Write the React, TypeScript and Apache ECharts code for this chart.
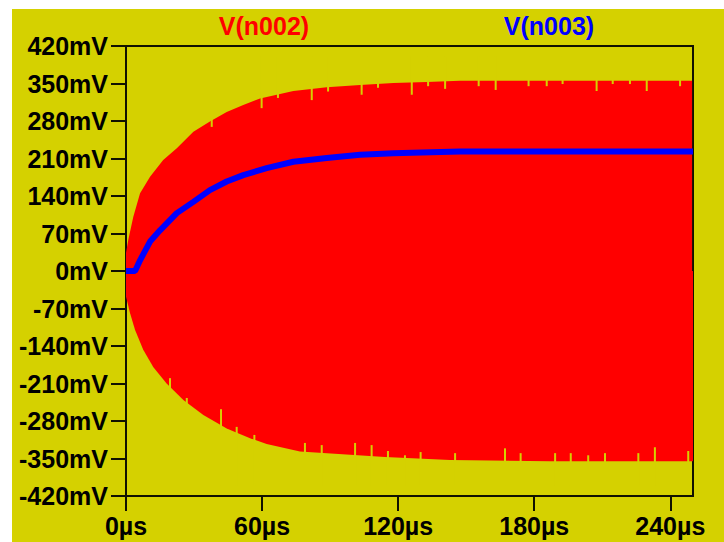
import React, { useEffect, useRef } from "react";
import * as echarts from "echarts";

// ---- data ----
const xTicks = [0, 60, 120, 180, 240];
const yTicks = [-420, -350, -280, -210, -140, -70, 0, 70, 140, 210, 280, 350, 420];

// V(n002): envelope of the fast oscillation (µs, mV)
const upperT = [0, 1.0, 3.2, 6.2, 10.6, 16.4, 22.4, 29.7, 37.0, 44.4, 51.7, 59.1, 73.8, 88.5, 103.2, 117.9, 132.6, 147.3, 200, 249.6];
const upperV = [34, 58, 101, 145, 176, 207, 229, 260, 279, 297, 310, 322, 336, 343, 347, 351, 353, 355, 355, 355];
const lowerT = [0, 1.8, 4.0, 7.6, 12.0, 17.9, 25.3, 34.1, 44.4, 54.7, 62.0, 76.7, 114.2, 142.9, 187, 250];
const lowerV = [-48, -79, -110, -147, -179, -210, -241, -269, -294, -312, -323, -337, -347, -353, -355, -355];

// small notches in the envelope edges (µs, mV reached by the notch)
const upperNotchT = [37.8, 59.8, 67.0, 81.9, 89.1, 103.9, 111.1, 126.0, 133.2, 140.7, 155.5, 163.0, 177.5, 185.5, 192.5, 207.5, 214.6, 222.2, 229.6, 244.3];
const upperNotchV = [269, 304, 323, 319, 335, 329, 342, 329, 345, 340, 345, 338, 345, 345, 349, 336, 349, 349, 336, 345];
const lowerNotchT = [19.4, 26.8, 41.9, 48.8, 56.6, 78.9, 86.3, 101.0, 108.3, 115.5, 123.0, 129.9, 145.1, 167.1, 174.0, 189.2, 196.1, 203.8, 211.2, 225.9, 233.2, 247.9];
const lowerNotchV = [-200, -237, -258, -291, -306, -321, -325, -321, -325, -336, -344, -338, -340, -331, -340, -340, -340, -344, -340, -340, -329, -336];

// V(n003)
const blueT = [0, 4, 6.2, 10.6, 15, 22.4, 29.7, 37, 44.4, 51.7, 62, 73.8, 88.5, 103.2, 117.9, 147.3, 200, 250];
const blueV = [0, 0, 20, 55, 76, 108, 129, 151, 167, 179, 192, 204, 211, 217, 220, 223, 223, 223];

const BG = "#d5d100";
const FONT = '"Liberation Sans", Arial, sans-serif';
const AXIS = "#111100";

export default function App() {
  const ref = useRef<HTMLDivElement>(null);

  useEffect(() => {
    const chart = echarts.init(ref.current!, null, { renderer: "svg" });
    const pairs = (t: number[], v: number[]) => t.map((x, i) => [x, v[i]]);

    const notchSeries = (t: number[], v: number[], edge: number) => ({
      type: "custom",
      data: pairs(t, v),
      z: 3,
      renderItem: (params: any, api: any) => {
        const p1 = api.coord([api.value(0), api.value(1)]);
        const p2 = api.coord([api.value(0), edge]);
        const y0 = Math.min(p1[1], p2[1]);
        return {
          type: "rect",
          shape: { x: p1[0] - 1, y: y0, width: 2, height: Math.abs(p2[1] - p1[1]) },
          style: { fill: BG },
        };
      },
    });

    chart.setOption({
      animation: false,
      backgroundColor: BG,
      grid: {
        left: 114,
        top: 37,
        width: 567,
        height: 450,
        show: true,
        borderColor: AXIS,
        borderWidth: 2,
        backgroundColor: "transparent",
      },
      graphic: [
        {
          type: "text",
          x: 252,
          y: 17,
          style: { text: "V(n002)", fill: "#ff0000", font: `bold 25px ${FONT}`, textAlign: "center", textVerticalAlign: "middle" },
        },
        {
          type: "text",
          x: 537,
          y: 17,
          style: { text: "V(n003)", fill: "#0000ff", font: `bold 25px ${FONT}`, textAlign: "center", textVerticalAlign: "middle" },
        },
      ],
      xAxis: {
        type: "value",
        min: 0,
        max: 250,
        interval: 60,
        axisLine: { onZero: false, lineStyle: { color: AXIS, width: 2 } },
        axisTick: { show: true, length: 15, customValues: xTicks, lineStyle: { color: AXIS, width: 2 } },
        axisLabel: {
          customValues: xTicks,
          formatter: (v: number) => `${v}µs`,
          margin: 17,
          fontSize: 25,
          fontWeight: "bold",
          fontFamily: FONT,
          color: "#000",
        },
        splitLine: { show: false },
      },
      yAxis: {
        type: "value",
        min: -420,
        max: 420,
        interval: 70,
        axisLine: { show: true, lineStyle: { color: AXIS, width: 2 } },
        axisTick: { show: true, length: 15, customValues: yTicks, lineStyle: { color: AXIS, width: 2 } },
        axisLabel: {
          customValues: yTicks,
          formatter: (v: number) => `${v}mV`,
          margin: 18,
          fontSize: 25,
          fontWeight: "bold",
          fontFamily: FONT,
          color: "#000",
        },
        splitLine: { show: false },
      },
      series: [
        {
          name: "V(n002)",
          type: "line",
          data: pairs(upperT, upperV),
          symbol: "none",
          lineStyle: { width: 0, color: "#ff0000" },
          areaStyle: { color: "#ff0000", opacity: 1, origin: "auto" },
          z: 2,
        },
        {
          name: "V(n002) lower",
          type: "line",
          data: pairs(lowerT, lowerV),
          symbol: "none",
          lineStyle: { width: 0, color: "#ff0000" },
          areaStyle: { color: "#ff0000", opacity: 1, origin: "auto" },
          z: 2,
        },
        notchSeries(upperNotchT, upperNotchV, 400),
        notchSeries(lowerNotchT, lowerNotchV, -400),
        {
          name: "V(n003)",
          type: "line",
          data: pairs(blueT, blueV),
          symbol: "none",
          lineStyle: { width: 6, color: "#0000ff" },
          z: 4,
        },
      ],
    });
    return () => chart.dispose();
  }, []);

  return (
    <div style={{ position: "absolute", left: 0, top: 0, width: 724, height: 542, background: "#fff", overflow: "hidden" }}>
      <div ref={ref} style={{ position: "absolute", left: 12, top: 9, width: 712, height: 533 }} />
    </div>
  );
}
